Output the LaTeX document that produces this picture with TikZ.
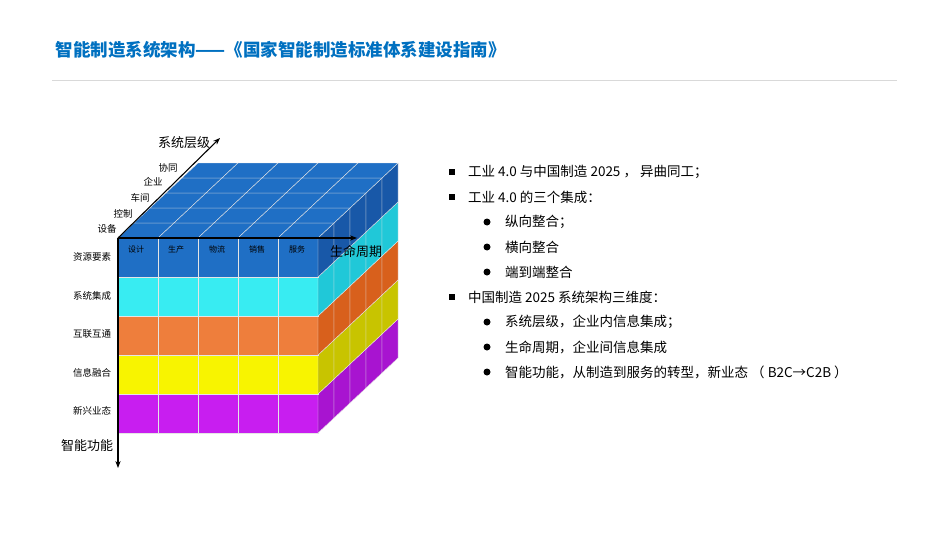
\documentclass[tikz,border=0pt]{standalone}
\usepackage{fontspec}
\setmainfont{Noto Sans CJK SC}
\usetikzlibrary{arrows.meta}
\definecolor{tblue}{HTML}{0070C0}
\definecolor{c0}{HTML}{1F6FC5}\definecolor{s0}{HTML}{1858A8}
\definecolor{c1}{HTML}{38ECF2}\definecolor{s1}{HTML}{20C8D8}
\definecolor{c2}{HTML}{EE7E3C}\definecolor{s2}{HTML}{D8601C}
\definecolor{c3}{HTML}{F8F400}\definecolor{s3}{HTML}{C8C400}
\definecolor{c4}{HTML}{C81EF0}\definecolor{s4}{HTML}{A814D0}
\tikzset{cell/.style={draw=white!80!gray,line width=0.4pt},
 lab/.style={font=\fontsize{9.5}{11}\selectfont,inner sep=0pt},
 axl/.style={font=\fontsize{13}{15}\selectfont,inner sep=0pt},
 txt/.style={font=\fontsize{13.5}{15}\selectfont,anchor=west,inner sep=0pt},
 sq/.style={fill=black,minimum size=6pt,inner sep=0pt},
 dot/.style={circle,fill=black,minimum size=7pt,inner sep=0pt},
 ax/.style={-{Stealth[length=7pt]},line width=1.1pt}}
\begin{document}
\begin{tikzpicture}[x=1pt,y=-1pt]
\useasboundingbox (0,0) rectangle (950,535);
\node[anchor=west,text=tblue,font=\bfseries\fontsize{17.5}{20}\selectfont] (title) at (52,50) {智能制造系统架构——《国家智能制造标准体系建设指南》};
\draw[gray!30] (52,80) -- (897,80);
% cube
\def\H{39}
\foreach \L/\cc/\ss in {4/c4/s4,3/c3/s3,2/c2/s2,1/c1/s1,0/c0/s0}{
  \pgfmathsetmacro\t{238+\H*\L}\pgfmathsetmacro\b{238+\H*(\L+1)}
  \foreach \i in {0,...,4}{
    \fill[\cc,cell] (118+40*\i,\t) rectangle (118+40*\i+40,\b);}
  \foreach \j in {0,...,4}{
    \fill[\ss,cell] (318+16*\j,\t-15*\j) -- (318+16*\j+16,\t-15*\j-15) -- (318+16*\j+16,\b-15*\j-15) -- (318+16*\j,\b-15*\j) -- cycle;}
}
\foreach \i in {0,...,4}{\foreach \j in {0,...,4}{
  \fill[c0,cell] (118+40*\i+16*\j,238-15*\j) -- (158+40*\i+16*\j,238-15*\j) -- (174+40*\i+16*\j,223-15*\j) -- (134+40*\i+16*\j,223-15*\j) -- cycle;}}
\coordinate (o) at (118,238);
\coordinate (ex) at (357,238);
\coordinate (ey) at (220,138);
\coordinate (ez) at (118,468);
\draw[ax] (o) -- (ex);
\draw[ax] (o) -- (ey);
\draw[ax] (o) -- (ez);
\node[axl] (ly) at (184,143) {系统层级};
\node[axl] (lx) at (356,252) {生命周期};
\node[axl] (lz) at (87,446) {智能功能};
\foreach \n/\x/\y in {设备/107/229,控制/123/214,车间/140/198,企业/153/182,协同/168/168}{\node[lab] at (\x,\y) {\n};}
\foreach \n/\x in {设计/136,生产/176,物流/217,销售/257,服务/297}{\node[lab,font=\fontsize{8}{9}\selectfont] at (\x,249) {\n};}
\foreach \n/\y in {资源要素/257,系统集成/296,互联互通/334,信息融合/373,新兴业态/411}{\node[lab] at (92,\y) {\n};}
% bullets
\foreach \y/\t in {172/{工业 4.0 与中国制造 2025 ， 异曲同工；},197/{工业 4.0 的三个集成：},297/{中国制造 2025 系统架构三维度：}}{
  \node[sq] at (452,\y) {}; \node[txt] at (468,\y) {\t};}
\foreach \y/\t in {222/{纵向整合；},247/{横向整合},272/{端到端整合},322/{系统层级，企业内信息集成；},347/{生命周期，企业间信息集成},372/{智能功能，从制造到服务的转型，新业态 （ B2C→C2B ）}}{
  \node[dot] at (487,\y) {}; \node[txt] at (505,\y) {\t};}
\end{tikzpicture}
\end{document}
